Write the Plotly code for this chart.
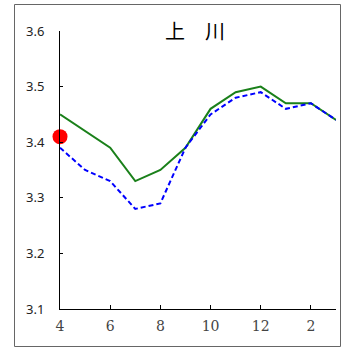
import plotly.graph_objects as go

months = [4, 5, 6, 7, 8, 9, 10, 11, 12, 13, 14, 15]
green_vals = [3.45, 3.42, 3.39, 3.33, 3.35, 3.39, 3.46, 3.49, 3.50, 3.47, 3.47, 3.44]
blue_vals = [3.39, 3.35, 3.33, 3.28, 3.29, 3.39, 3.45, 3.48, 3.49, 3.46, 3.47, 3.44]
point_x = [4]
point_y = [3.41]
xtick_vals = [4, 6, 8, 10, 12, 14]
xtick_text = ["4", "6", "8", "10", "12", "2"]
ytick_vals = [3.1, 3.2, 3.3, 3.4, 3.5, 3.6]
ytick_text = ["3.1", "3.2", "3.3", "3.4", "3.5", "3.6"]
title_text = "上　川"

fig = go.Figure()
fig.add_trace(go.Scatter(x=months, y=green_vals, mode="lines",
                         line=dict(color="#1a801a", width=2), showlegend=False,
                         cliponaxis=False))
fig.add_trace(go.Scatter(x=months, y=blue_vals, mode="lines",
                         line=dict(color="#0000ff", width=2, dash="5px,3px"),
                         showlegend=False, cliponaxis=False))
fig.add_trace(go.Scatter(x=point_x, y=point_y, mode="markers",
                         marker=dict(color="#ff0000", size=15), showlegend=False,
                         cliponaxis=False))

fig.update_layout(
    width=341, height=348,
    margin=dict(l=60, r=5, t=31, b=39),
    paper_bgcolor="white", plot_bgcolor="white",
    xaxis=dict(range=[4, 15], tickvals=xtick_vals, ticktext=xtick_text,
               showgrid=False, zeroline=False, showline=True, linecolor="black",
               linewidth=1, ticks="inside", ticklen=4, tickcolor="black",
               tickfont=dict(family="DejaVu Serif, Liberation Serif, serif", size=14, color="#444"),
               ticklabelstandoff=4),
    yaxis=dict(range=[3.1, 3.6], tickvals=ytick_vals, ticktext=ytick_text,
               showgrid=False, zeroline=False, showline=True, linecolor="black",
               linewidth=1, ticks="inside", ticklen=3, tickcolor="black",
               tickfont=dict(family="Noto Sans, sans-serif", size=13, color="#222"),
               ticklabelstandoff=12),
    annotations=[dict(text=title_text, xref="paper", yref="paper", x=(195 - 60) / 276,
                      y=(309 - 30) / 278, xanchor="center", yanchor="middle",
                      showarrow=False,
                      font=dict(family="Noto Sans CJK JP", size=20, color="black"))],
    shapes=[dict(type="rect", xref="paper", yref="paper",
                 x0=(14.5 - 60) / 276, x1=(340.5 - 60) / 276,
                 y0=(309 - 346.5) / 278, y1=(309 - 4.5) / 278,
                 line=dict(color="#666", width=1))],
)

fig.write_html("out.html", config={"displayModeBar": False},
               post_script="document.body.style.margin='0';document.body.style.overflow='hidden';")
